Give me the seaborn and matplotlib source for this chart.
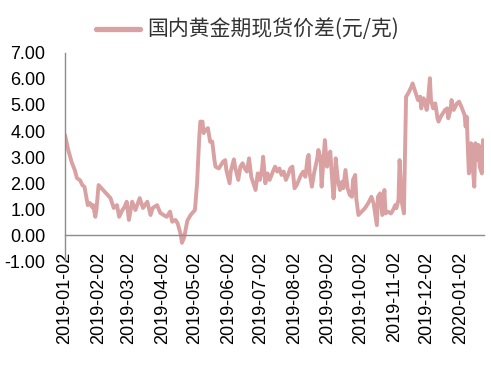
import matplotlib
matplotlib.use("Agg")
import matplotlib.pyplot as plt
import seaborn as sns
import pandas as pd

# ---- data ----
dates = [
    "2019-01-02", "2019-01-05", "2019-01-08", "2019-01-11", "2019-01-13", "2019-01-16",
    "2019-01-18", "2019-01-20", "2019-01-23", "2019-01-25", "2019-01-27", "2019-01-28",
    "2019-01-30", "2019-01-31", "2019-02-02", "2019-02-08", "2019-02-13", "2019-02-16",
    "2019-02-19", "2019-02-21", "2019-02-24", "2019-02-26", "2019-02-28", "2019-03-02",
    "2019-03-05", "2019-03-08", "2019-03-12", "2019-03-15", "2019-03-19", "2019-03-22",
    "2019-03-24", "2019-03-28", "2019-03-31", "2019-04-03", "2019-04-06", "2019-04-09",
    "2019-04-11", "2019-04-14", "2019-04-16", "2019-04-19", "2019-04-20", "2019-04-22",
    "2019-04-25", "2019-04-28", "2019-05-02", "2019-05-04", "2019-05-06", "2019-05-07",
    "2019-05-09", "2019-05-10", "2019-05-12", "2019-05-14", "2019-05-16", "2019-05-18",
    "2019-05-20", "2019-05-21", "2019-05-24", "2019-05-26", "2019-05-28", "2019-05-30",
    "2019-05-31", "2019-06-03", "2019-06-04", "2019-06-07", "2019-06-08", "2019-06-11",
    "2019-06-13", "2019-06-15", "2019-06-17", "2019-06-19", "2019-06-21", "2019-06-23",
    "2019-06-25", "2019-06-27", "2019-06-29", "2019-07-01", "2019-07-03", "2019-07-04",
    "2019-07-06", "2019-07-08", "2019-07-10", "2019-07-13", "2019-07-15", "2019-07-17",
    "2019-07-19", "2019-07-21", "2019-07-23", "2019-07-25", "2019-07-27", "2019-07-29",
    "2019-07-31", "2019-08-02", "2019-08-04", "2019-08-06", "2019-08-08", "2019-08-10",
    "2019-08-12", "2019-08-14", "2019-08-15", "2019-08-16", "2019-08-18", "2019-08-20",
    "2019-08-23", "2019-08-24", "2019-08-26", "2019-08-27", "2019-08-29", "2019-08-30",
    "2019-09-01", "2019-09-02", "2019-09-04", "2019-09-05", "2019-09-07", "2019-09-08",
    "2019-09-09", "2019-09-11", "2019-09-13", "2019-09-15", "2019-09-16", "2019-09-18",
    "2019-09-20", "2019-09-22", "2019-09-24", "2019-09-25", "2019-09-27", "2019-09-28",
    "2019-09-30", "2019-10-03", "2019-10-06", "2019-10-09", "2019-10-12", "2019-10-14",
    "2019-10-17", "2019-10-18", "2019-10-20", "2019-10-22", "2019-10-24", "2019-10-25",
    "2019-10-27", "2019-10-30", "2019-11-01", "2019-11-03", "2019-11-04", "2019-11-06",
    "2019-11-07", "2019-11-09", "2019-11-11", "2019-11-13", "2019-11-15", "2019-11-18",
    "2019-11-19", "2019-11-22", "2019-11-24", "2019-11-26", "2019-11-27", "2019-11-29",
    "2019-11-30", "2019-12-02", "2019-12-03", "2019-12-05", "2019-12-06", "2019-12-08",
    "2019-12-10", "2019-12-12", "2019-12-13", "2019-12-15", "2019-12-17", "2019-12-19",
    "2019-12-21", "2019-12-22", "2019-12-24", "2019-12-25", "2019-12-27", "2019-12-30",
    "2020-01-01", "2020-01-03", "2020-01-06", "2020-01-07", "2020-01-08", "2020-01-09",
    "2020-01-10", "2020-01-12", "2020-01-13", "2020-01-15", "2020-01-16", "2020-01-18",
    "2020-01-19", "2020-01-20", "2020-01-22", "2020-01-23",
]
values = [
    3.85, 3.27, 2.82, 2.50, 2.19, 2.10,
    1.92, 1.85, 1.15, 1.23, 1.08, 1.15,
    0.70, 0.96, 1.92, 1.65, 1.42, 1.04,
    1.15, 0.70, 0.96, 1.08, 1.28, 0.58,
    1.28, 0.96, 1.42, 1.04, 1.28, 0.77,
    1.04, 1.15, 0.85, 0.77, 0.70, 0.90,
    0.51, 0.58, 0.45, 0.00, -0.30, -0.10,
    0.55, 0.77, 0.96, 2.00, 3.78, 4.36,
    4.36, 3.92, 4.04, 4.11, 3.59, 3.59,
    2.88, 2.63, 2.56, 2.69, 2.82, 2.88,
    2.50, 1.99, 2.44, 2.91, 2.63, 2.12,
    2.63, 2.76, 2.56, 2.44, 2.95, 2.24,
    1.99, 1.73, 2.37, 2.12, 2.56, 3.01,
    1.99, 2.37, 2.12, 2.44, 2.63, 2.44,
    2.56, 2.31, 2.44, 2.12, 2.31, 2.56,
    2.63, 1.80, 1.92, 2.12, 2.31, 2.44,
    2.24, 2.95, 3.08, 2.37, 1.86, 2.37,
    2.95, 3.27, 2.95, 1.86, 3.08, 3.65,
    2.63, 2.95, 3.21, 2.56, 1.41, 1.92,
    2.95, 2.12, 1.73, 2.05, 1.80, 2.50,
    1.80, 1.54, 1.47, 2.12, 2.31, 1.41,
    0.77, 0.90, 1.03, 1.22, 1.47, 1.22,
    0.38, 1.47, 1.60, 0.77, 1.73, 0.83,
    0.90, 0.83, 0.96, 1.15, 1.03, 1.35,
    2.88, 1.28, 0.83, 5.32, 5.45, 5.71,
    5.83, 5.45, 5.19, 5.32, 4.87, 5.26,
    5.19, 4.81, 5.06, 6.03, 5.19, 4.87,
    5.06, 4.49, 4.36, 4.55, 4.68, 4.81,
    4.87, 4.49, 4.81, 5.19, 4.81, 5.06,
    5.13, 4.94, 4.62, 4.17, 4.55, 3.40,
    2.37, 3.53, 2.88, 1.86, 3.53, 2.88,
    3.46, 2.63, 2.37, 3.65,
]
series_name = "国内黄金期现货价差(元/克)"
tick_labels = [
    "2019-01-02", "2019-02-02", "2019-03-02", "2019-04-02", "2019-05-02",
    "2019-06-02", "2019-07-02", "2019-08-02", "2019-09-02", "2019-10-02",
    "2019-11-02", "2019-12-02", "2020-01-02",
]
y_ticks = [-1, 0, 1, 2, 3, 4, 5, 6, 7]

# ---- style ----
sns.set_style("white")
plt.rcParams["font.family"] = ["Liberation Sans", "Noto Sans CJK SC", "DejaVu Sans"]

line_color = "#D9A1A1"
axis_color = "#8C8C8C"

df = pd.DataFrame({"date": pd.to_datetime(dates), "value": values})

fig = plt.figure(figsize=(4.91, 3.78), dpi=100)
ax = fig.add_axes([0.1324, 0.3095, 0.8534, 0.5503])

sns.lineplot(data=df, x="date", y="value", ax=ax, color=line_color,
             linewidth=2.8, label=series_name, legend=False)

ax.set_xlim(pd.Timestamp("2019-01-02"), pd.Timestamp("2020-01-24"))
ax.set_ylim(-1, 7)
ax.set_yticks(y_ticks)
ax.set_yticklabels([f"{v:.2f}" for v in y_ticks])

tick_dates = pd.to_datetime(tick_labels)
ax.set_xticks(tick_dates)
ax.set_xticklabels(tick_labels)

ax.set_xlabel("")
ax.set_ylabel("")

for s in ["top", "right"]:
    ax.spines[s].set_visible(False)
ax.spines["bottom"].set_position(("data", 0))
ax.spines["bottom"].set_color(axis_color)
ax.spines["left"].set_color(axis_color)
ax.spines["bottom"].set_linewidth(1.0)
ax.spines["left"].set_linewidth(1.0)

ax.tick_params(axis="x", direction="out", length=5, width=1.0, color=axis_color,
               pad=7, labelrotation=90, labelsize=13, labelcolor="black")
ax.tick_params(axis="y", direction="out", length=4, width=1.0, color=axis_color,
               pad=10, labelsize=13, labelcolor="black")
for lbl in ax.get_xticklabels():
    lbl.set_rotation(90)
    lbl.set_ha("center")
    lbl.set_va("top")
ax.grid(False)

handles, labels = ax.get_legend_handles_labels()
leg = fig.legend(handles, labels, loc="center", bbox_to_anchor=(0.504, 0.921),
                 frameon=False, handlelength=2.1, handletextpad=0.35,
                 prop={"family": ["Noto Sans CJK SC", "DejaVu Sans"], "size": 15})
for t in leg.get_texts():
    t.set_color("#333333")
for h in leg.get_lines():
    h.set_linewidth(3.8)

fig.savefig("out.png", dpi=100)
